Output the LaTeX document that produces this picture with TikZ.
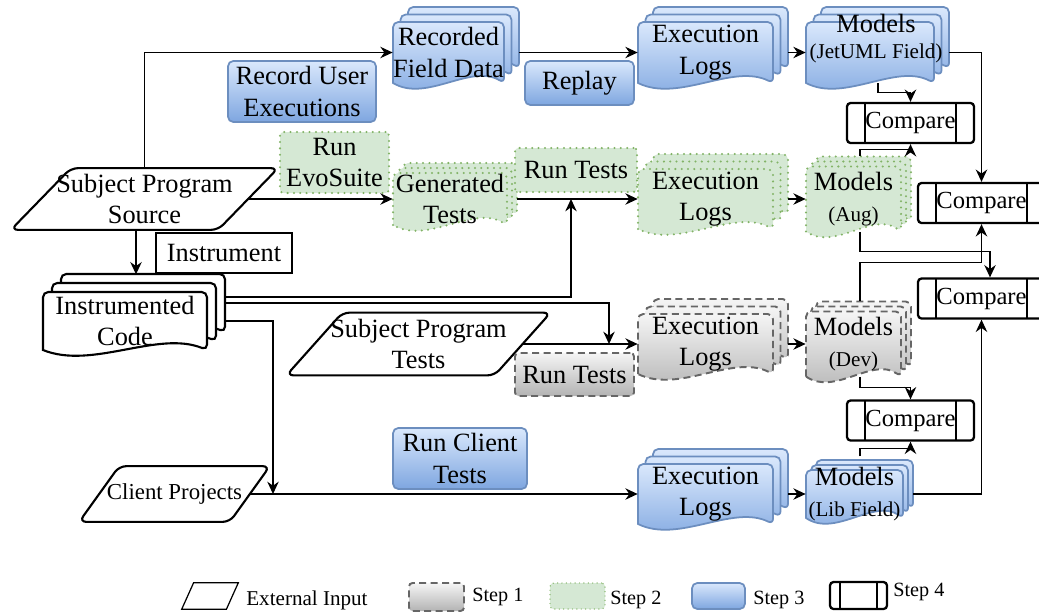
\documentclass[tikz,border=0pt]{standalone}
\usepackage{fontspec}
\setmainfont{Liberation Serif}
\usetikzlibrary{arrows.meta}

\definecolor{blueA}{HTML}{DAE8FC}
\definecolor{blueB}{HTML}{7EA6E0}
\definecolor{blueline}{HTML}{6C8EBF}
\definecolor{greenfill}{HTML}{D5E8D4}
\definecolor{greenline}{HTML}{82B366}
\definecolor{grayA}{HTML}{F5F5F5}
\definecolor{grayB}{HTML}{B3B3B3}
\definecolor{grayline}{HTML}{666666}

% one sheet: style, left, bottom, width, height
\newcommand{\docsheet}[5]{%
  \path[#1, rounded corners=3pt] (#2,#3) -- ++(0,#5) -- ++(#4,0) -- ++(0,-#5)
    [sharp corners] .. controls +(-0.3*#4,0.4) and +(0.3*#4,-0.4) .. (#2,#3) -- cycle;}
% three sheets: style, left, bottom, width, height, offset
\newcommand{\docstack}[6]{%
  \docsheet{#1}{#2+2*#6}{#3+2*#6}{#4}{#5}%
  \docsheet{#1}{#2+#6}{#3+#6}{#4}{#5}%
  \docsheet{#1}{#2}{#3}{#4}{#5}}
% parallelogram round a node
\newcommand{\slantbox}[3][extin]{%
  \draw[#1] ([xshift=#3]#2.north west) -- ([xshift=#3]#2.north east)
    -- ([xshift=-#3]#2.south east) -- ([xshift=-#3]#2.south west) -- cycle;}

\begin{document}
\begin{tikzpicture}[font=\fontsize{15}{18}\selectfont,
    conn/.style={-{Stealth[length=7pt,width=6.5pt]}, line width=0.8pt},
    txt/.style={inner sep=0pt, align=center},
    small/.style={font=\fontsize{12}{14}\selectfont},
    legend/.style={font=\fontsize{11.5}{13}\selectfont, inner sep=0pt, anchor=west},
    extin/.style={draw, line width=1.2pt, rounded corners=4pt},
    plain/.style={draw, line width=1.2pt, fill=white},
    stepone/.style={draw=grayline, line width=1.1pt, dash pattern=on 4pt off 2.5pt,
        top color=grayA, bottom color=grayB, rounded corners=2pt},
    steptwo/.style={draw=greenline, line width=1.3pt, dash pattern=on 0pt off 3.6pt,
        line cap=round, fill=greenfill, rounded corners=2pt},
    stepthree/.style={draw=blueline, line width=1pt, top color=blueA, bottom color=blueB,
        rounded corners=3pt},
    stepfour/.style={draw, line width=1.3pt, fill=white, rounded corners=2pt,
        font=\fontsize{14}{16}\selectfont, inner sep=0pt,
        path picture={\draw[line width=1.1pt]
            ([xshift=#1]path picture bounding box.north west) -- ([xshift=#1]path picture bounding box.south west)
            ([xshift=-#1]path picture bounding box.north east) -- ([xshift=-#1]path picture bounding box.south east);}},
    stepfour/.default=0.36cm]

    \useasboundingbox (0,0) rectangle (20.78,-12.26);
    \clip (0,0) rectangle (20.78,-12.26);

    % external inputs
    \node[txt, minimum width=4.13cm, minimum height=1.22cm] (src) at (2.89,-3.98) {Subject Program\\Source};
    \slantbox{src}{0.6cm}
    \node[txt, minimum width=4.15cm, minimum height=1.24cm] (spt) at (8.37,-6.88) {Subject Program\\Tests};
    \slantbox{spt}{0.56cm}
    \node[txt, minimum width=3.0cm, minimum height=1.1cm, font=\fontsize{13}{15}\selectfont] (cli) at (3.49,-9.88) {Client Projects};
    \slantbox{cli}{0.4cm}

    % instrumentation
    \node[plain, txt, minimum width=2.72cm, minimum height=0.8cm] (instr) at (4.48,-5.06) {Instrument};
    \docstack{plain}{0.86}{-7.0}{3.28}{1.16}{0.18}
    \node[txt, minimum width=3.28cm, minimum height=1.16cm] (code) at (2.50,-6.42) {Instrumented\\Code};

    % field data row
    \node[stepthree, txt, minimum width=2.96cm, minimum height=1.22cm] (recU) at (6.04,-1.83) {Record User\\Executions};
    \docstack{stepthree}{7.86}{-1.66}{2.22}{1.22}{0.15}
    \node[txt, minimum width=2.22cm, minimum height=1.22cm] (rec) at (8.97,-1.05) {Recorded\\Field Data};
    \node[stepthree, txt, minimum width=2.18cm, minimum height=0.88cm] (replay) at (11.59,-1.66) {Replay};
    \docstack{stepthree}{12.76}{-1.66}{2.70}{1.22}{0.15}
    \node[txt, minimum width=2.70cm, minimum height=1.22cm] (logsA) at (14.11,-1.05) {Execution\\Logs};
    \docstack{stepthree}{16.12}{-1.66}{2.56}{1.22}{0.15}
    \node[txt, minimum width=2.56cm, minimum height=1.22cm] (mJ) at (17.40,-1.05) {};
    \node[txt] (mJt) at (17.52,-0.77) {Models\\[-3pt]{\fontsize{12}{14}\selectfont (JetUML Field)}};

    % generated tests row
    \node[steptwo, txt, minimum width=2.18cm, minimum height=1.22cm] (evo) at (6.69,-3.25) {Run\\EvoSuite};
    \docstack{steptwo}{7.86}{-4.50}{2.28}{1.04}{0.1}
    \node[txt, minimum width=2.28cm, minimum height=1.04cm] (gen) at (9.00,-3.98) {Generated\\Tests};
    \node[steptwo, txt, minimum width=2.44cm, minimum height=0.88cm] (runB) at (11.52,-3.40) {Run Tests};
    \docstack{steptwo}{12.76}{-4.58}{2.70}{1.20}{0.15}
    \node[txt, minimum width=2.70cm, minimum height=1.20cm] (logsB) at (14.11,-3.98) {Execution\\Logs};
    \docstack{steptwo}{16.12}{-4.63}{1.90}{1.30}{0.1}
    \node[txt, minimum width=1.90cm, minimum height=1.30cm] (mAug) at (17.07,-3.98) {Models\\{\fontsize{12}{14}\selectfont (Aug)}};

    % developer tests row
    \node[stepone, txt, minimum width=2.38cm, minimum height=0.86cm] (runC) at (11.49,-7.49) {Run Tests};
    \docstack{stepone}{12.76}{-7.48}{2.70}{1.20}{0.15}
    \node[txt, minimum width=2.70cm, minimum height=1.20cm] (logsC) at (14.11,-6.88) {Execution\\Logs};
    \docstack{stepone}{16.12}{-7.53}{1.90}{1.30}{0.1}
    \node[txt, minimum width=1.90cm, minimum height=1.30cm] (mDev) at (17.07,-6.88) {Models\\{\fontsize{12}{14}\selectfont (Dev)}};

    % client row
    \node[stepthree, txt, minimum width=2.68cm, minimum height=1.22cm] (runD) at (9.20,-9.17) {Run Client\\Tests};
    \docstack{stepthree}{12.76}{-10.48}{2.70}{1.20}{0.15}
    \node[txt, minimum width=2.70cm, minimum height=1.20cm] (logsD) at (14.11,-9.88) {Execution\\Logs};
    \docstack{stepthree}{16.12}{-10.36}{1.94}{0.96}{0.1}
    \node[txt, minimum width=1.94cm, minimum height=0.96cm] (mLib) at (17.09,-9.88) {Models\\{\fontsize{12}{14}\selectfont (Lib Field)}};

    % comparisons
    \node[stepfour, minimum width=2.54cm, minimum height=0.8cm] (cmpA) at (18.21,-2.46) {Compare};
    \node[stepfour, minimum width=2.54cm, minimum height=0.8cm] (cmpB) at (19.63,-4.06) {Compare};
    \node[stepfour, minimum width=2.54cm, minimum height=0.8cm] (cmpC) at (19.63,-5.97) {Compare};
    \node[stepfour, minimum width=2.54cm, minimum height=0.8cm] (cmpD) at (18.21,-8.41) {Compare};

    % joints on connector lines
    \coordinate (jB) at (11.42,-3.98);
    \coordinate (jC) at (12.18,-6.88);
    \coordinate (jD) at (5.46,-9.88);

    % connectors
    \draw[conn] (src.north) |- (rec.west);
    \draw[conn] (src.east) -- (gen.west);
    \draw[conn] ([xshift=-0.17cm]src.south) -- ++(0,-0.89);
    \draw[conn] ([xshift=0.3cm]rec.east) -- (logsA.west);
    \draw[conn] ([xshift=0.3cm]logsA.east) -- (mJ.west);
    \draw[conn] ([xshift=0.2cm]gen.east) -- (logsB.west);
    \draw[conn] ([xshift=0.3cm]logsB.east) -- (mAug.west);
    \draw[conn] (spt.east) -- (logsC.west);
    \draw[conn] ([xshift=0.3cm]logsC.east) -- (mDev.west);
    \draw[conn] (cli.east) -- (logsD.west);
    \draw[conn] ([xshift=0.3cm]logsD.east) -- (mLib.west);
    \draw[conn] ([xshift=0.36cm,yshift=0.48cm]code.east) -| (jB);
    \draw[conn] ([xshift=0.36cm,yshift=0.36cm]code.east) -| (jC);
    \draw[conn] ([xshift=0.36cm]code.east) -| (jD);

    \draw[conn] ([xshift=0.16cm]mJ.south) -- ++(0,-0.18) -| (cmpA.north);
    \draw[conn] ([xshift=0.3cm]mJ.east) -| (cmpB.north);
    \draw[conn] ([xshift=0.13cm,yshift=0.2cm]mAug.north) -- ++(0,0.13) -| (cmpA.south);
    \draw[conn] ([xshift=0.13cm]mAug.south) -- ++(0,-0.39) -| ([xshift=0.17cm]cmpC.north);
    \draw[conn] ([xshift=0.13cm,yshift=0.2cm]mDev.north) -- ++(0,0.77) -| (cmpB.south);
    \draw[conn] ([xshift=0.13cm]mDev.south) -- ++(0,-0.21) -| (cmpD.north);
    \draw[conn] ([xshift=0.11cm,yshift=0.2cm]mLib.north) -- ++(0,0.16) -| (cmpD.south);
    \draw[conn] ([xshift=0.2cm]mLib.east) -| (cmpC.south);

    % legend
    \node[txt, minimum width=0.88cm, minimum height=0.52cm] (lgIn) at (4.2,-11.92) {};
    \slantbox[draw, line width=0.7pt]{lgIn}{0.12cm}
    \node[legend, font=\fontsize{12}{14}\selectfont] (lgInT) at (4.92,-12.0) {External Input};
    \node[stepone, minimum width=1.1cm, minimum height=0.56cm, inner sep=0pt] (lgA) at (8.73,-11.94) {};
    \node[legend] (lgAT) at (9.44,-11.94) {Step 1};
    \node[steptwo, minimum width=1.1cm, minimum height=0.52cm, inner sep=0pt, line width=0.8pt, dash pattern=on 0pt off 2.5pt] (lgB) at (11.55,-11.92) {};
    \node[legend] (lgBT) at (12.2,-12.0) {Step 2};
    \node[stepthree, minimum width=1.06cm, minimum height=0.52cm, inner sep=0pt] (lgC) at (14.37,-11.92) {};
    \node[legend] (lgCT) at (15.06,-12.0) {Step 3};
    \node[stepfour=0.2cm, minimum width=1.14cm, minimum height=0.54cm] (lgD) at (17.17,-11.91) {};
    \node[legend] (lgDT) at (17.86,-11.84) {Step 4};
\end{tikzpicture}
\end{document}
